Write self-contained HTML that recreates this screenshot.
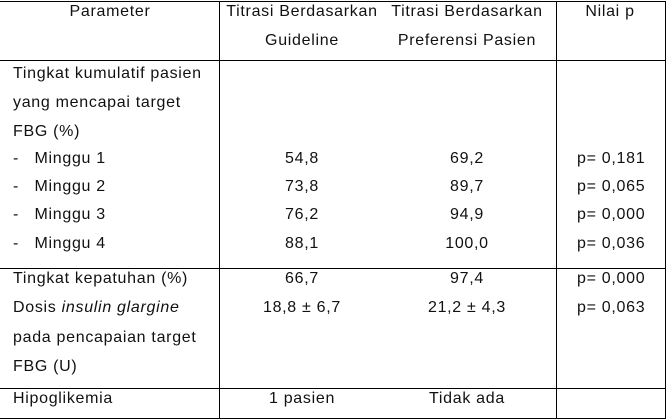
<!DOCTYPE html>
<html><head><meta charset="utf-8"><style>
body{margin:0;width:667px;height:420px;background:#fff;position:relative;overflow:hidden;font-family:"Liberation Sans",Arial,sans-serif;font-size:16px;letter-spacing:0.7px;color:#111;}
.h{position:absolute;height:1px;background:#000;left:0;width:666px}
.v{position:absolute;width:1px;background:#000}
.t{position:absolute;white-space:nowrap;line-height:18px;margin-top:-1px}
.c{transform:translateX(-50%)}
</style></head><body>
<div class="h" style="top:1px"></div>
<div class="h" style="top:60px"></div>
<div class="h" style="top:268px"></div>
<div class="h" style="top:388px"></div>
<div class="h" style="top:418px"></div>
<div class="v" style="left:219px;top:1px;height:418px"></div>
<div class="v" style="left:556px;top:1px;height:418px"></div>
<div class="v" style="left:665px;top:1px;height:418px"></div>

<div class="t c" style="left:110px;top:4px">Parameter</div>
<div class="t c" style="left:302px;top:4px">Titrasi Berdasarkan</div>
<div class="t c" style="left:302px;top:33px">Guideline</div>
<div class="t c" style="left:467px;top:4px">Titrasi Berdasarkan</div>
<div class="t c" style="left:467px;top:33px">Preferensi Pasien</div>
<div class="t c" style="left:610px;top:4px">Nilai p</div>

<div class="t" style="left:13px;top:66px">Tingkat kumulatif pasien</div>
<div class="t" style="left:13px;top:95px">yang mencapai target</div>
<div class="t" style="left:13px;top:124px">FBG (%)</div>

<div class="t" style="left:13px;top:151px">-&nbsp;&nbsp; Minggu 1</div>
<div class="t" style="left:13px;top:179px">-&nbsp;&nbsp; Minggu 2</div>
<div class="t" style="left:13px;top:207px">-&nbsp;&nbsp; Minggu 3</div>
<div class="t" style="left:13px;top:236px">-&nbsp;&nbsp; Minggu 4</div>
<div class="t c" style="left:302px;top:151px">54,8</div>
<div class="t c" style="left:302px;top:179px">73,8</div>
<div class="t c" style="left:302px;top:207px">76,2</div>
<div class="t c" style="left:302px;top:236px">88,1</div>
<div class="t c" style="left:467px;top:151px">69,2</div>
<div class="t c" style="left:467px;top:179px">89,7</div>
<div class="t c" style="left:467px;top:207px">94,9</div>
<div class="t c" style="left:467px;top:236px">100,0</div>
<div class="t" style="left:577px;top:151px">p= 0,181</div>
<div class="t" style="left:577px;top:179px">p= 0,065</div>
<div class="t" style="left:577px;top:207px">p= 0,000</div>
<div class="t" style="left:577px;top:236px">p= 0,036</div>

<div class="t" style="left:13px;top:271px">Tingkat kepatuhan (%)</div>
<div class="t c" style="left:302px;top:271px">66,7</div>
<div class="t c" style="left:467px;top:271px">97,4</div>
<div class="t" style="left:577px;top:271px">p= 0,000</div>

<div class="t" style="left:13px;top:300px">Dosis <i>insulin glargine</i></div>
<div class="t" style="left:13px;top:330px">pada pencapaian target</div>
<div class="t" style="left:13px;top:359px">FBG (U)</div>
<div class="t c" style="left:302px;top:300px">18,8 ± 6,7</div>
<div class="t c" style="left:467px;top:300px">21,2 ± 4,3</div>
<div class="t" style="left:577px;top:300px">p= 0,063</div>

<div class="t" style="left:13px;top:391px">Hipoglikemia</div>
<div class="t c" style="left:302px;top:391px">1 pasien</div>
<div class="t c" style="left:467px;top:391px">Tidak ada</div>
</body></html>
